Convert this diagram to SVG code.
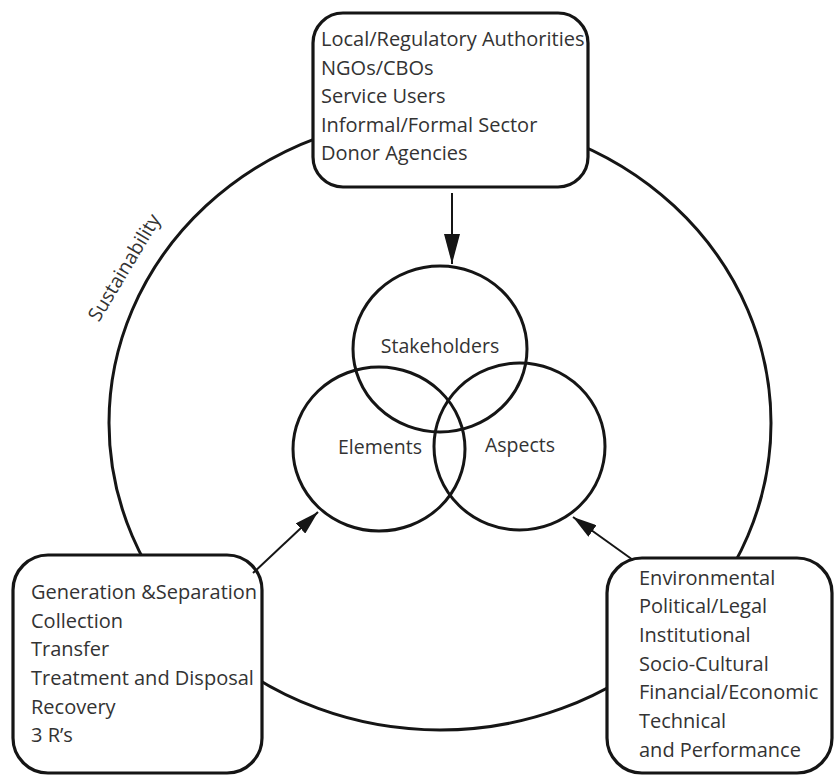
<svg xmlns="http://www.w3.org/2000/svg" width="834" height="776" viewBox="0 0 834 776">
  <style>
    .shape { fill: none; stroke: #151515; stroke-width: 3; }
    .box { fill: #ffffff; stroke: #151515; stroke-width: 3.2; }
    .txt { font-family: "Open Sans", "Noto Sans", "Liberation Sans", sans-serif; font-size: 20px; fill: #333333; }
    .lbl { font-family: "Open Sans", "Noto Sans", "Liberation Sans", sans-serif; font-size: 19.5px; fill: #333333; text-anchor: middle; }
    .arrow { stroke: #151515; stroke-width: 2; fill: none; }
    .top { marker-end: url(#head); }
    .side { marker-end: url(#headSmall); }
  </style>
  <defs>
    <marker id="head" viewBox="0 0 30 16" refX="30" refY="8" markerWidth="30" markerHeight="16" markerUnits="userSpaceOnUse" orient="auto">
      <path d="M0,0 L30,8 L0,16 Z" fill="#151515"/>
    </marker>
    <marker id="headSmall" viewBox="0 0 24 14" refX="24" refY="7" markerWidth="24" markerHeight="14" markerUnits="userSpaceOnUse" orient="auto">
      <path d="M0,0 L24,7 L0,14 Z" fill="#151515"/>
    </marker>
  </defs>

  <!-- outer sustainability ring -->
  <g id="sustainability">
    <ellipse class="shape" cx="440" cy="423" rx="331" ry="307"/>
    <text class="lbl" transform="translate(130 271) rotate(-59)">Sustainability</text>
  </g>

  <!-- three overlapping core circles -->
  <g id="stakeholders">
    <ellipse class="shape" cx="440" cy="349" rx="87" ry="83"/>
    <text class="lbl" x="440" y="353">Stakeholders</text>
  </g>
  <g id="elements">
    <ellipse class="shape" cx="379" cy="449" rx="86" ry="82"/>
    <text class="lbl" x="380" y="454">Elements</text>
  </g>
  <g id="aspects">
    <ellipse class="shape" cx="519.5" cy="446.5" rx="85.5" ry="83.5"/>
    <text class="lbl" x="520" y="452">Aspects</text>
  </g>

  <!-- stakeholder list -->
  <g id="stakeholder-list">
    <rect class="box" x="313" y="13" width="275" height="174" rx="30" ry="30"/>
    <text class="txt" x="321" y="46">Local/Regulatory Authorities</text>
    <text class="txt" x="321" y="74.5">NGOs/CBOs</text>
    <text class="txt" x="321" y="103">Service Users</text>
    <text class="txt" x="321" y="131.5">Informal/Formal Sector</text>
    <text class="txt" x="321" y="160">Donor Agencies</text>
  </g>

  <!-- element list -->
  <g id="element-list">
    <rect class="box" x="13" y="555" width="249" height="218" rx="35" ry="35"/>
    <text class="txt" x="31" y="599">Generation &amp;Separation</text>
    <text class="txt" x="31" y="628">Collection</text>
    <text class="txt" x="31" y="656">Transfer</text>
    <text class="txt" x="31" y="685">Treatment and Disposal</text>
    <text class="txt" x="31" y="714">Recovery</text>
    <text class="txt" x="31" y="742">3 R’s</text>
  </g>

  <!-- aspect list -->
  <g id="aspect-list">
    <rect class="box" x="607" y="558" width="225" height="215" rx="35" ry="35"/>
    <text class="txt" x="639" y="585">Environmental</text>
    <text class="txt" x="639" y="613">Political/Legal</text>
    <text class="txt" x="639" y="642">Institutional</text>
    <text class="txt" x="639" y="671">Socio-Cultural</text>
    <text class="txt" x="639" y="699">Financial/Economic</text>
    <text class="txt" x="639" y="728">Technical</text>
    <text class="txt" x="639" y="757">and Performance</text>
  </g>

  <!-- connectors -->
  <g id="connectors">
    <line class="arrow top" x1="452" y1="193" x2="452" y2="264"/>
    <line class="arrow side" x1="253" y1="573" x2="318" y2="512"/>
    <line class="arrow side" x1="633" y1="560" x2="573" y2="517"/>
  </g>
</svg>
